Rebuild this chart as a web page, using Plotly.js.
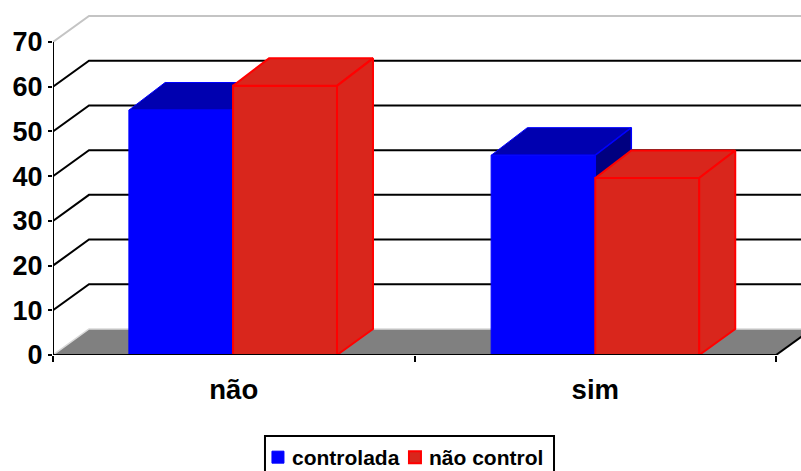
<!DOCTYPE html>
<html><head><meta charset="utf-8">
<script src="https://cdn.plot.ly/plotly-3.0.1.min.js"></script>
<style>html,body{margin:0;padding:0;background:#fff;overflow:hidden}</style>
</head><body><div id="chart" style="width:801px;height:471px"></div>
<script>
const categories = ['não', 'sim'];
const catPositions = [0.498, 1.5];
const controlada = [54.8, 44.7];
const naoControl = [60.2, 39.6];
const seriesNames = ['controlada', 'não control'];
const yTicks = [0, 10, 20, 30, 40, 50, 60, 70];
const gridValues = [10, 20, 30, 40, 50, 60];

const depthX = 0.0996, depthY = 5.82, barDepthY = 6.15, barW = 0.2875, nCat = 2;
const xRange = [0, 2.069], yRange = [0, 76.27];
const FONT = 'Liberation Sans, Arial, sans-serif';
const RED = '#d9261c';

function poly(list) {
  const x = [], y = [];
  list.forEach((p, i) => {
    if (i) { x.push(null); y.push(null); }
    p.forEach(q => { x.push(q[0]); y.push(q[1]); });
    x.push(p[0][0]); y.push(p[0][1]);
  });
  return {x, y};
}
function face(list, fill, line, lw, xa, ya) {
  const p = poly(list);
  return {type:'scatter', mode:'lines', x:p.x, y:p.y, fill:'toself', fillcolor:fill,
    line:{color:line, width:lw}, showlegend:false, hoverinfo:'skip', xaxis:xa, yaxis:ya};
}
function topFaces(vals, off) {
  return vals.map((v, i) => {
    const l = catPositions[i] + off, r = l + barW;
    return [[l,v],[l+depthX,v+barDepthY],[r+depthX,v+barDepthY],[r,v]];
  });
}
function sideFaces(vals, off) {
  return vals.map((v, i) => {
    const r = catPositions[i] + off + barW;
    return [[r,v],[r+depthX,v+barDepthY],[r+depthX,depthY],[r,0]];
  });
}
function lineTrace(x, y, color, w, xa, ya, noclip) {
  return {type:'scatter', mode:'lines', x, y, line:{color, width:w}, showlegend:false,
    hoverinfo:'skip', xaxis:xa, yaxis:ya, cliponaxis:!noclip};
}

const traces = [];
traces.push(face([[[0,0],[depthX,depthY],[nCat+depthX,depthY],[nCat,0]]], '#808080', '#808080', 0, 'x', 'y'));
gridValues.forEach(v => traces.push(lineTrace([0,depthX,nCat+depthX],[v,v+depthY,v+depthY],'#000',2,'x','y',true)));
traces.push(lineTrace([0,depthX,nCat+depthX],[70,70+depthY,70+depthY],'#c4c4c4',2,'x','y',true));
traces.push(lineTrace([0,depthX,nCat+depthX],[0,depthY,depthY],'#d8d8d8',1.5,'x','y',true));
traces.push(lineTrace([nCat,nCat+depthX],[0,depthY],'#000',2,'x','y',true));

traces.push(face(topFaces(controlada,-barW), '#0000b0', '#0000ff', 1, 'x2', 'y2'));
traces.push(face(sideFaces(controlada,-barW), '#000080', '#0000ff', 1.5, 'x2', 'y2'));

traces.push({type:'bar', name:seriesNames[0], x:catPositions, y:controlada,
  marker:{color:'#0000ff', line:{color:'#0000ff', width:1}}, xaxis:'x3', yaxis:'y3'});
traces.push({type:'bar', name:seriesNames[1], x:catPositions, y:naoControl,
  marker:{color:RED, line:{color:'#ff0000', width:2}}, xaxis:'x3', yaxis:'y3'});

traces.push(face(topFaces(naoControl,0), RED, '#ff0000', 2, 'x3', 'y3'));
traces.push(face(sideFaces(naoControl,0), RED, '#ff0000', 2, 'x3', 'y3'));

traces.push(lineTrace([0,nCat],[0,0],'#000',2,'x3','y3',true));
traces.push(lineTrace([0,0],[0,70],'#000',2,'x3','y3',true));

const hidden = (over, r) => ({overlaying:over, range:r, visible:false, fixedrange:true});

const layout = {
  width:801, height:471,
  margin:{l:53, r:0, t:14, b:116, pad:0, autoexpand:false},
  paper_bgcolor:'#fff', plot_bgcolor:'rgba(0,0,0,0)',
  barmode:'group', bargap:0.425, bargroupgap:0,
  font:{family:FONT, color:'#000'},
  xaxis:{range:xRange, tickmode:'array', tickvals:[0.5,1.5], ticktext:categories,
    ticks:'', showgrid:false, zeroline:false, showline:false, ticklabelstandoff:15,
    tickfont:{family:FONT, size:27.5, color:'#000', weight:'bold'},
    minor:{tickmode:'array', tickvals:[0,1,2], ticks:'outside', ticklen:6, tickwidth:2, tickcolor:'#000', showgrid:false}},
  yaxis:{range:yRange, tickmode:'array', tickvals:yTicks, ticktext:yTicks.map(String),
    ticks:'outside', ticklen:4, tickwidth:2, tickcolor:'#000', showgrid:false, zeroline:false, showline:false,
    tickfont:{family:FONT, size:27, color:'#000', weight:'bold'}},
  xaxis2:hidden('x', xRange), yaxis2:hidden('y', yRange),
  xaxis3:hidden('x', xRange), yaxis3:hidden('y', yRange),
  shapes:[{type:'rect', xref:'paper', yref:'paper', x0:0.2834, x1:0.6698, y0:-0.2375, y1:-0.37,
    line:{color:'#000', width:2}, fillcolor:'#fff', layer:'above'}],
  legend:{orientation:'h', x:0.266, xanchor:'left', y:-0.2405, yanchor:'top',
    borderwidth:0, bgcolor:'rgba(0,0,0,0)', traceorder:'normal',
    entrywidthmode:'pixels', entrywidth:92,
    font:{family:FONT, size:21, color:'#000', weight:'bold'}},
  showlegend:true
};
Plotly.newPlot('chart', traces, layout, {staticPlot:true, displayModeBar:false}).then(() => {
  document.querySelectorAll('.legendsymbols').forEach(g => g.setAttribute('transform', 'translate(6,0)'));
  document.querySelectorAll('.legend .scrollbox, .legend .legendtoggle').forEach(g => g.removeAttribute('clip-path'));
  document.querySelectorAll('.legend').forEach(g => { g.style.overflow = 'visible'; });
});
</script></body></html>
